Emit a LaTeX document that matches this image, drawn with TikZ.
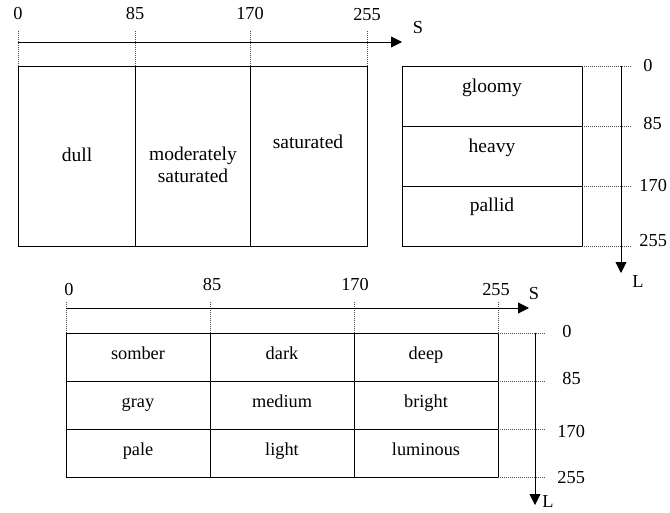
\documentclass[tikz,border=0pt]{standalone}
\usepackage{fontspec}
\setmainfont{Liberation Serif}
\usetikzlibrary{arrows.meta}

\begin{document}
\begin{tikzpicture}[x=1pt, y=-1pt, line width=0.9pt,
        font=\fontsize{18.3}{21.5}\selectfont,
        arrowline/.style={-{Triangle[length=11pt,width=11pt]}},
        guide/.style={line width=0.7pt, dash pattern=on 1pt off 1pt, black!70},
        word/.style={align=center, inner sep=0pt, anchor=base},
        bigword/.style={word, font=\fontsize{19.5}{21.5}\selectfont}]
  \useasboundingbox (0,0) rectangle (670,512);
  % saturation classes
  \draw (18,66) rectangle (367,246);
  \draw (135,66) -- (135,246) (250,66) -- (250,246);
  \foreach \x/\v/\b in {18/0/19, 135/85/19, 250/170/19, 367/255/20}{
    \draw[guide] (\x,31) -- (\x,66);
    \node[word] at (\x,\b) {\v};}
  \coordinate (satstart) at (18,42);
  \coordinate (satend) at (402,42);
  \draw[arrowline] (satstart) -- (satend);
  \node[word] (sat) at (418,33) {S};
  \node[bigword] (dull) at (77,161) {dull};
  \node[bigword, anchor=north] (moderate) at (193,147) {moderately\\saturated};
  \node[bigword] (saturated) at (308,148) {saturated};
  % lightness classes
  \draw (402,66) rectangle (582,246);
  \draw (402,126) -- (582,126) (402,186) -- (582,186);
  \foreach \y in {66,126,186,246}
    \draw[guide] (582,\y) -- (631,\y);
  \node[word, anchor=base west] at (643,71) {0};
  \node[word, anchor=base west] at (643,129) {85};
  \node[word, anchor=base west] at (639,191) {170};
  \node[word, anchor=base west] at (639,246) {255};
  \coordinate (litstart) at (621,66);
  \coordinate (litend) at (621,273);
  \draw[arrowline] (litstart) -- (litend);
  \node[word] (lit) at (638,287) {L};
  \node[bigword] (gloomy) at (492,92) {gloomy};
  \node[bigword] (heavy) at (492,152) {heavy};
  \node[bigword] (pallid) at (492,211) {pallid};
  % combined classes
  \draw (66,333) rectangle (498,477);
  \draw (210,333) -- (210,477) (354,333) -- (354,477);
  \draw (66,381) -- (498,381) (66,429) -- (498,429);
  \foreach \x in {66,210,354,498}
    \draw[guide] (\x,302) -- (\x,333);
  \node[word] at (69,295) {0};
  \node[word] at (212,290) {85};
  \node[word] at (355,290) {170};
  \node[word] at (496,295) {255};
  \coordinate (sat2start) at (66,308);
  \coordinate (sat2end) at (529,308);
  \draw[arrowline] (sat2start) -- (sat2end);
  \node[word] (sat2) at (534,299) {S};
  \foreach \y in {333,381,429,477}
    \draw[guide] (498,\y) -- (546,\y);
  \node[word, anchor=base west] at (562,337) {0};
  \node[word, anchor=base west] at (562,384) {85};
  \node[word, anchor=base west] at (557,437) {170};
  \node[word, anchor=base west] at (557,483) {255};
  \coordinate (lit2start) at (535,333);
  \coordinate (lit2end) at (535,505);
  \draw[arrowline] (lit2start) -- (lit2end);
  \node[word] (lit2) at (548,507) {L};
  \foreach \n/\x/\y in {somber/138/359, dark/282/359, deep/426/359,
      gray/138/407, medium/282/407, bright/426/407,
      pale/138/455, light/282/455, luminous/426/455}
    \node[word] (\n) at (\x,\y) {\n};
\end{tikzpicture}
\end{document}
